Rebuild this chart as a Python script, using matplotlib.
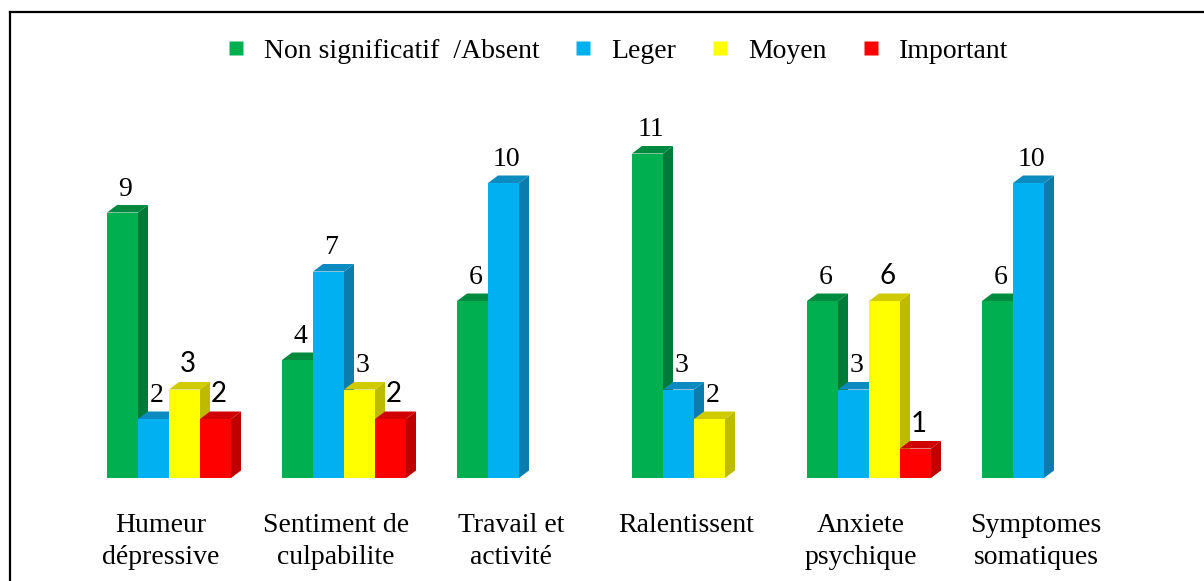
import matplotlib
matplotlib.use("Agg")
import matplotlib.pyplot as plt
from matplotlib.patches import Polygon
from matplotlib.lines import Line2D

# data
categories = ["Humeur\ndépressive", "Sentiment de\nculpabilite", "Travail et\nactivité",
              "Ralentissent", "Anxiete\npsychique", "Symptomes\nsomatiques"]
series = ["Non significatif  /Absent", "Leger", "Moyen", "Important"]
non_signif = [9, 4, 6, 11, 6, 6]
leger = [2, 7, 10, 3, 3, 10]
moyen = [3, 3, 0, 2, 6, 0]
important = [2, 2, 0, 0, 1, 0]

# style
front = ["#00B050", "#00B0F0", "#FFFF00", "#FF0000"]
side = ["#007A38", "#0A7DAD", "#BDBA00", "#BE0000"]
top = ["#008A40", "#0B8BC0", "#CFCB00", "#D00000"]
serif = "Liberation Serif"
sans = "Lato"
fs = 20
# a few value labels are set in a sans font in the original
sans_labels = {(0, 2), (0, 3), (1, 3), (4, 2), (4, 3)}

W, H = 1204, 581
fig = plt.figure(figsize=(W / 100, H / 100), dpi=100)
base_px = 478
unit_px = 29.5
ymax = 14
ax = fig.add_axes([0, (H - base_px) / H, 1, ymax * unit_px / H])
group_px = 175.0
center0 = 169.0
ax.set_xlim(-center0 / group_px, (W - center0) / group_px)
ax.set_ylim(0, ymax)
for s in ax.spines.values():
    s.set_visible(False)
ax.set_yticks([])

bw = 31 / group_px
dx = 10 / group_px
dy = 7.5 / unit_px

values = [non_signif, leger, moyen, important]
for i in range(len(categories)):
    for j in range(len(series)):
        v = values[j][i]
        if not v:
            continue
        x0 = i - 2 * bw + j * bw
        x1 = x0 + bw
        z = 10 + i * 10 + j * 2
        ax.add_patch(Polygon([(x1, 0), (x1 + dx, dy), (x1 + dx, v + dy), (x1, v)],
                             closed=True, facecolor=side[j], edgecolor="none", zorder=z))
        ax.add_patch(Polygon([(x0, v), (x1, v), (x1 + dx, v + dy), (x0 + dx, v + dy)],
                             closed=True, facecolor=top[j], edgecolor="none", zorder=z))
        ax.add_patch(Polygon([(x0, 0), (x1, 0), (x1, v), (x0, v)],
                             closed=True, facecolor=front[j], edgecolor="none", zorder=z + 1))
        fam = sans if (i, j) in sans_labels else serif
        ax.annotate(str(v), xy=((x0 + x1) / 2, v), xytext=(3, 17), textcoords="offset pixels",
                    ha="center", va="baseline", fontsize=fs, family=fam, color="black",
                    zorder=200)

# category labels sit a little left of the group centres (3-D perspective)
ax.set_xticks([i - 8 / group_px for i in range(len(categories))])
ax.set_xticklabels(categories, family=serif, fontsize=fs, linespacing=1.38, va="top")
ax.tick_params(axis="x", length=0, pad=25)

handles = [Line2D([], [], linestyle="none", marker="s", markersize=10,
                  markerfacecolor=front[j], markeredgecolor="none") for j in range(4)]
fig.legend(handles, series, loc="center", bbox_to_anchor=(618.5 / W, 1 - 51 / H), ncol=4,
           frameon=False, prop={"family": serif, "size": fs}, handlelength=0.5,
           handletextpad=0.76, columnspacing=1.33, borderpad=0)

# border of the text box (only top and left are inside the picture)
fig.add_artist(Line2D([9.5 / W, 9.5 / W], [0, 1 - 12 / H], color="black", lw=1.6))
fig.add_artist(Line2D([9.5 / W, 1], [1 - 12 / H, 1 - 12 / H], color="black", lw=1.6))

fig.savefig("out.png", dpi=100)
